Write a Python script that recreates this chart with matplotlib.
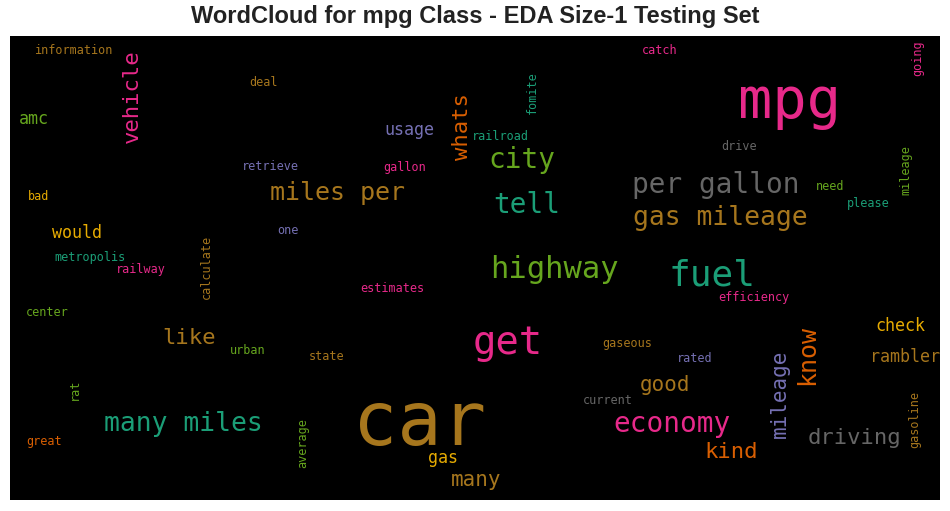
import matplotlib
matplotlib.use("Agg")
import matplotlib.pyplot as plt

words = ["mpg", "car", "get", "fuel", "highway", "city", "tell", "per gallon", "gas mileage",
         "miles per", "many miles", "economy", "driving", "kind", "mileage", "know", "vehicle",
         "whats", "like", "good", "many", "rambler", "check", "would", "amc", "usage", "gas",
         "information", "catch", "going", "deal", "fomite", "railroad", "drive", "retrieve",
         "gallon", "mileage", "need", "please", "bad", "one", "calculate", "metropolis",
         "railway", "estimates", "efficiency", "center", "urban", "state", "gaseous", "rated",
         "rat", "current", "great", "average", "gasoline"]
xs = [790, 420, 508, 712, 554, 522, 527, 716, 720, 337, 183, 672, 854, 731, 780, 807, 132,
      462, 189, 665, 476, 905, 900, 77, 34, 409, 443,
      74, 660, 918, 263, 532, 500, 739, 270, 405, 906, 830, 868, 39, 288, 206, 90,
      141, 392, 754, 47, 248, 327, 627, 695, 74, 608, 44, 303, 915]
ys = [103, 425, 343, 275, 270, 160, 205, 185, 218, 193, 424, 424, 438, 452, 394, 355, 96,
      127, 338, 385, 480, 357, 326, 233, 119, 130, 458,
      50, 50, 58, 83, 93, 136, 146, 167, 167, 170, 187, 204, 197, 231, 267, 257,
      269, 289, 297, 312, 351, 356, 343, 359, 389, 401, 442, 443, 420]
sizes = [41, 53, 28, 26, 22, 20, 20, 20, 19, 18, 19, 20, 16, 16, 15, 18, 16,
         16, 16, 15, 15, 12, 12, 12, 12, 12, 12] + [8.5] * 29
colors = ["#e7298a", "#a6761d", "#e7298a", "#1b9e77", "#66a61e", "#66a61e", "#1b9e77",
          "#666666", "#a6761d", "#a6761d", "#1b9e77", "#e7298a", "#666666", "#d95f02",
          "#7570b3", "#d95f02", "#e7298a", "#d95f02", "#a6761d", "#a6761d", "#a6761d",
          "#a6761d", "#e6ab02", "#e6ab02", "#66a61e", "#7570b3", "#e6ab02",
          "#a6761d", "#e7298a", "#e7298a", "#a6761d", "#1b9e77", "#1b9e77", "#666666",
          "#7570b3", "#e7298a", "#66a61e", "#66a61e", "#1b9e77", "#e6ab02", "#7570b3",
          "#a6761d", "#1b9e77", "#e7298a", "#e7298a", "#e7298a", "#66a61e", "#66a61e",
          "#a6761d", "#a6761d", "#7570b3", "#66a61e", "#666666", "#d95f02", "#66a61e",
          "#a6761d"]
vertical = {"mileage_14", "know", "vehicle", "whats", "going", "fomite", "mileage_36",
            "calculate", "rat", "average", "gasoline"}

fig = plt.figure(figsize=(9.5, 5.11), dpi=100)
ax = fig.add_axes([10 / 950, 11 / 511, 930 / 950, 464 / 511])
ax.set_facecolor("black")
ax.set_xlim(0, 930)
ax.set_ylim(464, 0)
ax.set_xticks([])
ax.set_yticks([])
for s in ax.spines.values():
    s.set_visible(False)

for i, w in enumerate(words):
    key = w if w != "mileage" else f"mileage_{i}"
    rot = 90 if key in vertical else 0
    ax.text(xs[i] - 10, ys[i] - 36, w, fontsize=sizes[i], color=colors[i],
            family="DejaVu Sans Mono", rotation=rot, ha="center", va="center")

fig.suptitle("WordCloud for mpg Class - EDA Size-1 Testing Set", x=0.5, y=0.99,
             fontsize=17, fontweight="bold", family="Liberation Sans", color="#222222")
fig.savefig("out.png")
